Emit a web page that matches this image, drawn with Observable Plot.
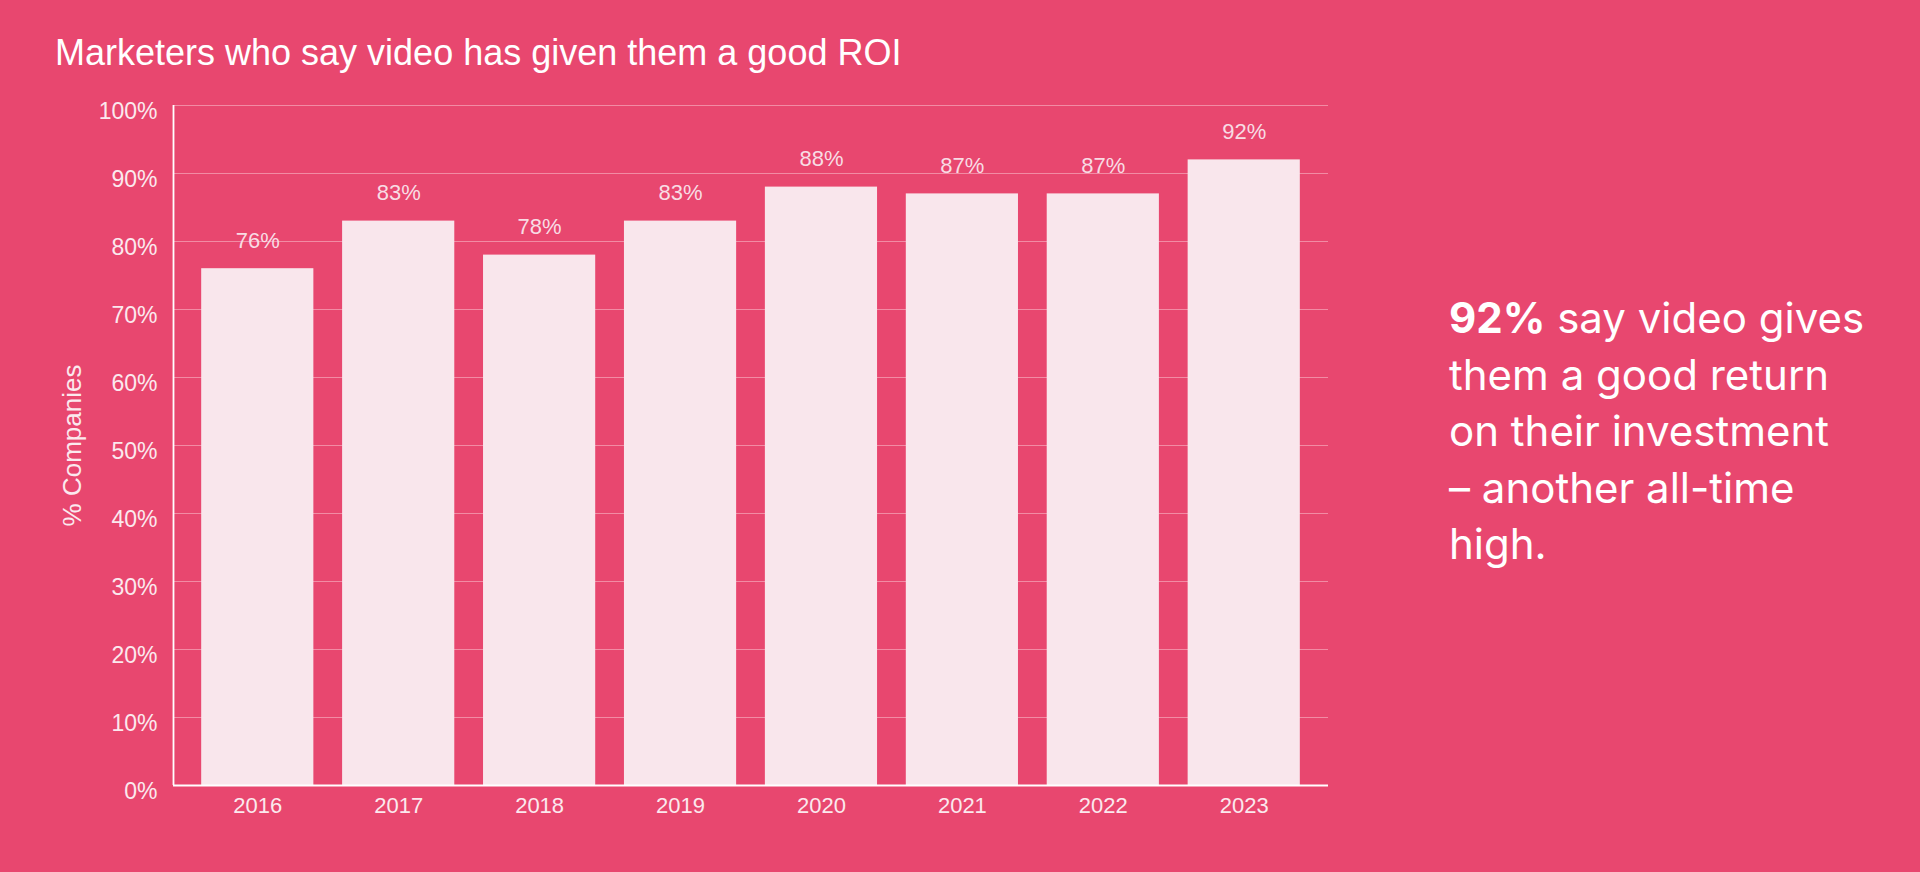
<!DOCTYPE html>
<html>
<head>
<meta charset="utf-8">
<script src="https://cdn.jsdelivr.net/npm/d3@7"></script>
<script src="https://cdn.jsdelivr.net/npm/@observablehq/plot@0.6"></script>
<style>
  html, body { margin: 0; padding: 0; }
  body { width: 1920px; height: 872px; background: #E8476F; position: relative; overflow: hidden; font-family: "Liberation Sans", Arial, sans-serif; }
  #title { position: absolute; left: 55px; top: 35px; font-size: 36px; line-height: 36px; color: #ffffff; white-space: nowrap; }
  #chart { position: absolute; left: 0; top: 0; }
  #note { position: absolute; left: 1449px; top: 290px; font-family: Inter, "Noto Sans", sans-serif; font-size: 42px; line-height: 56.5px; color: #ffffff; white-space: nowrap; }
  #note b { font-weight: 700; }
</style>
</head>
<body>
<div id="chart"></div>
<div id="title">Marketers who say video has given them a good ROI</div>
<div id="note"><b>92%</b> say video gives<br>them a good return<br>on their investment<br>– another all-time<br>high.</div>
<script>
const years = ["2016", "2017", "2018", "2019", "2020", "2021", "2022", "2023"];
const values = [76, 83, 78, 83, 88, 87, 87, 92];
const yTicks = [0, 10, 20, 30, 40, 50, 60, 70, 80, 90, 100];
const yLabel = "% Companies";

const data = years.map((year, i) => ({year, value: values[i]}));

const xPadOuter = 0.2, xPadInner = 0.204;
const frameLeft = 173, frameRight = 1328;
const step = (frameRight - frameLeft) / (years.length - xPadInner + 2 * xPadOuter);
const firstCenter = frameLeft + step * xPadOuter + step * (1 - xPadInner) / 2;

const plot = Plot.plot({
  width: 1400,
  height: 872,
  marginLeft: frameLeft,
  marginRight: 1400 - frameRight,
  marginTop: 105,
  marginBottom: 87,
  style: { background: "transparent", fontFamily: "Liberation Sans, Arial, sans-serif", fontSize: "23px", color: "#fbe9ee" },
  x: { domain: years, paddingInner: xPadInner, paddingOuter: xPadOuter, round: false, label: null },
  y: { domain: [0, 100], label: null },
  marks: [
    Plot.ruleY(yTicks, { stroke: "#f28ba4", strokeWidth: 1.2 }),
    Plot.barY(data, { x: "year", y: "value", fill: "#f9e6ec" }),
    Plot.text(data, { x: "year", y: "value", text: d => d.value + "%", lineAnchor: "bottom", dy: -21, fill: "#f8dce4", fontSize: 22 }),
    Plot.axisY({ ticks: yTicks, tickSize: 0, tickPadding: 16, tickFormat: d => d + "%", dy: 6, fill: "#fbe9ee", fontSize: 23, label: null }),
    Plot.axisX({ tickSize: 0, tickPadding: 12, fill: "#fbe9ee", fontSize: 22, label: null }),
    Plot.ruleY([0], { stroke: "#ffffff", strokeWidth: 1.8 }),
    Plot.ruleX([years[0]], { stroke: "#ffffff", strokeWidth: 1.8, y1: 0, y2: 100, dx: frameLeft - firstCenter }),
    Plot.text([yLabel], { frameAnchor: "left", dx: -101, rotate: -90, textAnchor: "middle", lineAnchor: "middle", fill: "#fbe9ee", fontSize: 26 })
  ]
});
document.getElementById("chart").appendChild(plot);
</script>
</body>
</html>
